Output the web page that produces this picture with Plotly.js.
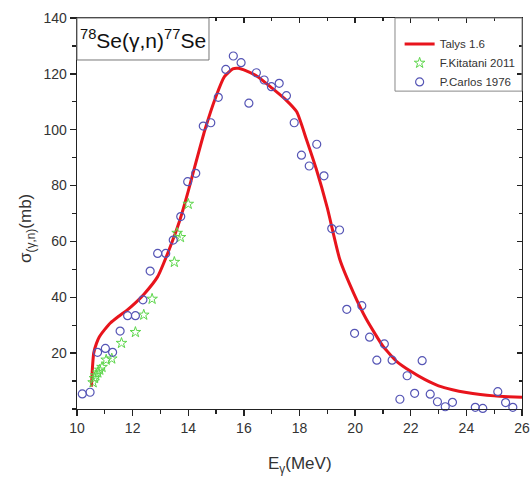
<!DOCTYPE html>
<html>
<head>
<meta charset="utf-8">
<script src="https://cdn.plot.ly/plotly-3.0.1.min.js"></script>
<style>html,body{margin:0;padding:0;background:#fff;}#chart{width:532px;height:477px;}</style>
</head>
<body>
<div id="chart"></div>
<script>
// Talys 1.6 calculation
const talysE = [10.52, 10.55, 10.6, 10.7, 10.8, 11.0, 11.2, 11.5, 11.8, 12.1, 12.4, 12.9, 13.35, 13.7, 14.0, 14.2, 14.6, 15.0, 15.3, 15.6, 15.8, 16.0, 16.5, 17.0, 17.5, 17.9, 18.25, 18.6, 19.0, 19.45, 19.95, 20.4, 21.0, 21.5, 22.0, 22.5, 23.0, 23.5, 24.0, 24.5, 25.0, 25.5, 26.0];
const talysS = [8, 14, 20, 23.5, 25.8, 28.5, 30.8, 33.2, 35.4, 38, 41, 47.4, 58, 67.7, 78, 85.5, 100, 112, 119, 121.8, 122, 121.4, 119, 115, 110.8, 106.4, 96.5, 86, 72, 53.5, 41.4, 32.2, 22.5, 17, 13.5, 10.6, 8.3, 6.9, 5.9, 5.2, 4.7, 4.4, 4.2];

// F.Kitatani 2011
const kitE = [10.58, 10.63, 10.68, 10.75, 10.82, 10.90, 11.05, 11.25, 11.60, 12.10, 12.40, 12.70, 13.50, 13.60, 13.72, 14.00];
const kitS = [9.5, 11.0, 12.0, 13.0, 14.0, 15.0, 17.6, 18.0, 23.6, 27.5, 33.7, 39.4, 52.6, 63.0, 61.5, 73.4];

// P.Carlos 1976
const carE = [10.19, 10.47, 10.74, 11.02, 11.28, 11.55, 11.82, 12.10, 12.37, 12.63, 12.90, 13.19, 13.46, 13.73, 13.98, 14.27, 14.54, 14.81, 15.08, 15.35, 15.62, 15.90, 16.18, 16.45, 16.73, 16.99, 17.27, 17.53, 17.81, 18.07, 18.35, 18.62, 18.88, 19.16, 19.44, 19.70, 19.98, 20.24, 20.52, 20.78, 21.05, 21.33, 21.61, 21.87, 22.14, 22.41, 22.70, 22.96, 23.24, 23.50, 24.32, 24.59, 25.13, 25.41, 25.67];
const carS = [5.4, 6.0, 20.3, 21.7, 20.3, 27.9, 33.4, 33.4, 39.1, 49.4, 55.7, 55.7, 60.5, 68.9, 81.4, 84.4, 101.3, 102.5, 111.6, 121.6, 126.4, 124.0, 109.5, 120.4, 117.8, 115.4, 116.6, 112.2, 102.5, 90.9, 87.0, 94.8, 83.5, 64.6, 64.1, 35.7, 27.1, 37.0, 25.7, 17.5, 23.3, 17.5, 3.5, 11.9, 5.6, 17.3, 5.3, 2.6, 0.8, 2.4, 0.6, 0.2, 6.2, 2.3, 0.6];

const xTickVals = [10, 12, 14, 16, 18, 20, 22, 24, 26];
const yTickVals = [20, 40, 60, 80, 100, 120, 140];

const font = 'Liberation Sans, Arial, sans-serif';

const traces = [
  {x: talysE, y: talysS, type: 'scatter', mode: 'lines', name: 'Talys 1.6',
   line: {color: '#e8141c', width: 3, shape: 'spline', smoothing: 0.5}, cliponaxis: false},
  {x: kitE, y: kitS, type: 'scatter', mode: 'markers', name: 'F.Kitatani 2011',
   marker: {symbol: 'star-open', size: 8, color: '#5cd64a', line: {width: 1, color: '#5cd64a'}}, cliponaxis: false},
  {x: carE, y: carS, type: 'scatter', mode: 'markers', name: 'P.Carlos 1976',
   marker: {symbol: 'circle-open', size: 8, color: '#5555b5', line: {width: 1.2, color: '#5555b5'}}, cliponaxis: false},
  {x: [], y: [], xaxis: 'x2', yaxis: 'y2', showlegend: false, type: 'scatter', hoverinfo: 'skip'}
];

const axCommon = {
  showgrid: false, zeroline: false, showline: true, linecolor: '#222', linewidth: 1.3,
  tickcolor: '#222', tickwidth: 1.3
};

const layout = {
  width: 532, height: 477,
  margin: {l: 77, r: 10, t: 18, b: 68},
  paper_bgcolor: '#fff', plot_bgcolor: '#fff',
  font: {family: font, color: '#333'},
  showlegend: true,
  xaxis: Object.assign({}, axCommon, {
    range: [10, 26], tickmode: 'array', tickvals: xTickVals, ticktext: xTickVals.map(String),
    ticks: 'outside', ticklen: 6,
    minor: {dtick: 1, tick0: 10, ticks: 'outside', ticklen: 4, tickcolor: '#222', tickwidth: 1.3},
    tickfont: {size: 14, color: '#333'}
  }),
  yaxis: Object.assign({}, axCommon, {
    range: [0, 140], tickmode: 'array', tickvals: yTickVals, ticktext: yTickVals.map(String),
    ticks: 'outside', ticklen: 6,
    minor: {dtick: 10, tick0: 0, ticks: 'outside', ticklen: 4, tickcolor: '#222', tickwidth: 1.3},
    tickfont: {size: 14, color: '#333'}
  }),
  xaxis2: Object.assign({}, axCommon, {
    overlaying: 'x', side: 'top', range: [10, 26], dtick: 2, tick0: 10,
    ticks: 'inside', ticklen: 5, showticklabels: false,
    minor: {dtick: 1, tick0: 10, ticks: 'inside', ticklen: 3, tickcolor: '#222', tickwidth: 1.3}
  }),
  yaxis2: Object.assign({}, axCommon, {
    overlaying: 'y', side: 'right', range: [0, 140], dtick: 20, tick0: 0,
    ticks: 'inside', ticklen: 5, showticklabels: false,
    minor: {dtick: 10, tick0: 0, ticks: 'inside', ticklen: 3, tickcolor: '#222', tickwidth: 1.3}
  }),
  legend: {
    x: 0.725, y: 0.9707, xanchor: 'left', yanchor: 'top',
    bgcolor: 'rgba(0,0,0,0)', borderwidth: 0,
    font: {size: 11.5, color: '#333', family: font},
    tracegroupgap: 0, itemwidth: 30
  },
  shapes: [
    {type: 'rect', xref: 'paper', yref: 'paper', x0: 0.7146, x1: 1, y0: 0.813, y1: 1,
     line: {color: '#888', width: 1}, fillcolor: 'rgba(0,0,0,0)', layer: 'above'},
    {type: 'rect', xref: 'paper', yref: 'paper', x0: 0, x1: 0.2966, y0: 0.8926, y1: 1,
     line: {color: '#777', width: 1}, fillcolor: '#fff', layer: 'above'}
  ],
  annotations: [
    {xref: 'paper', yref: 'paper', x: 0.1483, y: 0.9463, xanchor: 'center', yanchor: 'middle',
     text: '<sup>78</sup>Se(γ,n)<sup>77</sup>Se', showarrow: false,
     font: {size: 21, color: '#111', family: font}},
    {xref: 'paper', yref: 'paper', x: 0.5, y: -0.143, xanchor: 'center', yanchor: 'middle',
     text: 'E<sub>γ</sub>(MeV)', showarrow: false, font: {size: 17, color: '#333', family: font}},
    {xref: 'paper', yref: 'paper', x: -0.1124, y: 0.463, xanchor: 'center', yanchor: 'middle',
     text: 'σ<sub>(γ,n)</sub>(mb)', textangle: -90, showarrow: false, font: {size: 17, color: '#333', family: font}}
  ]
};

Plotly.newPlot('chart', traces, layout, {displayModeBar: false, staticPlot: true});
</script>
</body>
</html>
